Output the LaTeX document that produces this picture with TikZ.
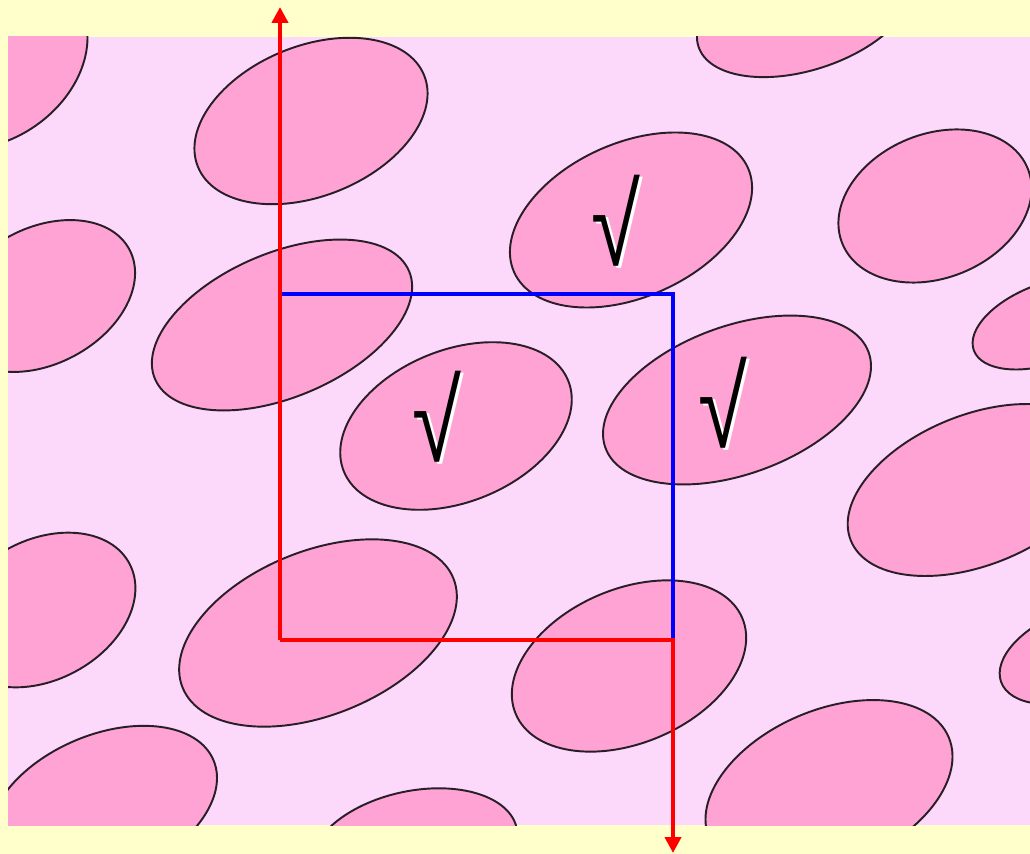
\documentclass[tikz,border=0pt]{standalone}
\usepackage{fontspec}
\usepackage{tikz}
\usetikzlibrary{arrows.meta}
\newfontfamily\tickfont{Liberation Sans}
\definecolor{paleyellow}{RGB}{255,255,204}
\definecolor{palepink}{RGB}{252,216,250}
\definecolor{cellpink}{RGB}{255,163,212}
\definecolor{edgegray}{RGB}{40,30,40}
\newcommand{\shadedtick}{\scalebox{0.78}[1]{\makebox[0pt][l]{\hspace{2pt}\raisebox{-1.2pt}{\textcolor{white}{√}}}√}}

\begin{document}
\begin{tikzpicture}[x=0.02cm, y=-0.02cm,
		cell/.style={draw=edgegray, fill=cellpink, line width=1.1pt},
		tick/.style={font=\tickfont\fontsize{65}{65}\selectfont, inner sep=0pt},
		route/.style={line width=2.3pt},
		tip/.style={-{Triangle[width=0.32cm, length=0.32cm]}}]
				\useasboundingbox (0,0) rectangle (1030,854);
				% background and sample
				\fill[paleyellow] (0,0) rectangle (1030,854);
				\fill[palepink] (8,37) rectangle (1030,825);
				\begin{scope}
					\clip (8,37) rectangle (1030,825);
					% centre x / centre y / radius a / radius b / tilt
					\foreach \cx/\cy/\ra/\rb/\ang in {
						-10/60/105/80/35, 311/121/122/75/22, 805/12/112/58/18,
						631/220/128/77/24, 935/206/100/72/22, 42/296/99/68/28,
						282/325/138/72/23, 456/426/121/76/22, 737/400/140/74/20,
						1049/323/80/40/20, 976/490/135/75/22, 42/610/99/70/28,
						318/633/146/82/22, 629/666/123/77/23, 1081/653/85/45/20,
						103/807/120/72/23, 414/850/105/59/12, 829/788/130/78/23}
						\draw[cell, rotate around={\ang:(\cx,\cy)}] (\cx,\cy) ellipse [x radius=\ra, y radius=\rb];
				\end{scope}
				
				% ticks on the counted grains
				\node[tick] (tickA) at (616,222) {\shadedtick};
				\node[tick] (tickB) at (437,418) {\shadedtick};
				\node[tick] (tickC) at (723,404) {\shadedtick};
				
				% counting frame
				\coordinate (topend) at (280,7);
				\coordinate (nw) at (280,294);
				\coordinate (ne) at (673,294);
				\coordinate (se) at (673,640);
				\coordinate (sw) at (280,640);
				\coordinate (bottomend) at (673,853);
				\draw[route, blue] (nw) -- (ne) -- (se);
				\draw[route, red, tip] (sw) -- (topend);
				\draw[route, red, tip] (sw) -- (se) -- (bottomend);
			\end{tikzpicture}
\end{document}
